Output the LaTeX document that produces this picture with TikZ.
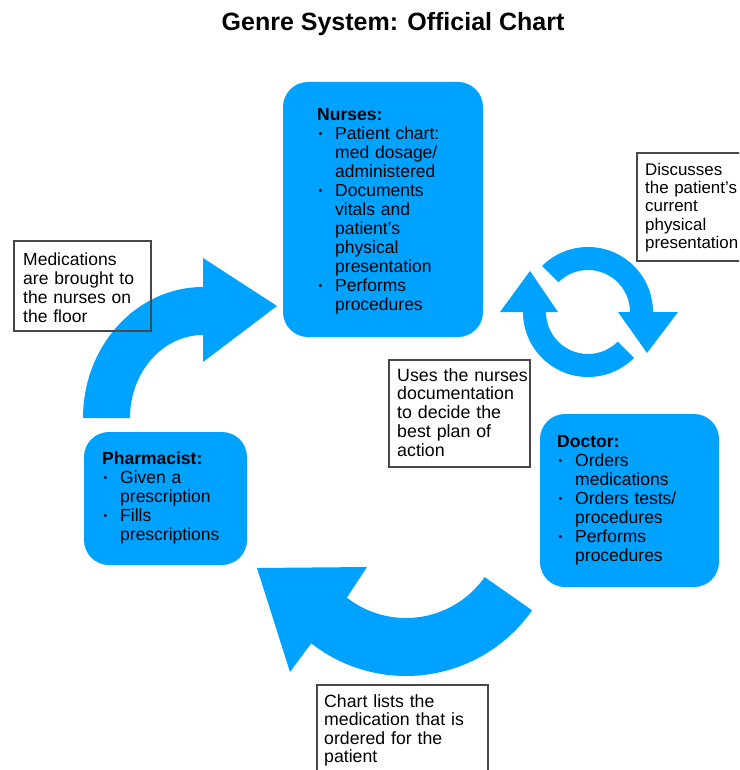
\documentclass[tikz,border=0pt]{standalone}
\usepackage{fontspec}
\setmainfont{Liberation Sans}
\usetikzlibrary{calc}
\definecolor{kblue}{RGB}{0,162,255}
\definecolor{kborder}{RGB}{72,72,72}
\newcommand\kbul{\makebox[18pt][l]{\hspace{1.5pt}\raisebox{1.8pt}{\fontsize{10.5}{10.5}\selectfont\textbullet}}}
\newcommand\kind{\hspace*{18pt}}
\begin{document}
\begin{tikzpicture}[x=1pt,y=-1pt,
  bluebox/.style={fill=kblue, rounded corners=25pt, inner sep=0pt},
  notebox/.style={draw=kborder, line width=1.3pt, inner sep=0pt},
  txt/.style={anchor=north west, inner sep=0pt, text width=160pt, align=left,
    font=\fontsize{17.5}{19}\selectfont},
  arrowshape/.style={fill=kblue}]
\useasboundingbox (0,0) rectangle (739,770);
\clip (0,0) rectangle (739,770);

% title
\node[anchor=base, font=\bfseries\fontsize{25}{30}\selectfont] (title) at (393,31) {Genre System: Official Chart};

% left curved arrow (pharmacist -> nurses)
\fill[arrowshape] (83,418) arc[start angle=180, end angle=270, x radius=120, y radius=131]
  -- (203,258) -- (277,306) -- (203,362) -- (203,335)
  arc[start angle=270, end angle=180, x radius=73, y radius=83] -- cycle;

% bottom curved arrow (doctor -> pharmacist)
\fill[arrowshape] ([shift={(406,522)}]35:154) arc[start angle=35, end angle=128, radius=154]
  -- (290,672) -- (257,568) -- (367,567) -- ([shift={(406,522)}]128:96)
  arc[start angle=128, end angle=35, radius=96] -- cycle;

% cycle icon (nurses <-> doctor)
\fill[arrowshape] ([shift={(588,312)}]225:65) arc[start angle=225, end angle=360, radius=65]
  -- (678,312) -- (647,353) -- (618,312) -- (630,312)
  arc[start angle=360, end angle=225, radius=42] -- cycle;
\fill[arrowshape] (523,312) -- (500,312) -- (530,271) -- (558,312) -- (546,312)
  arc[start angle=180, end angle=45, radius=42] -- ([shift={(588,312)}]45:65)
  arc[start angle=45, end angle=180, radius=65] -- cycle;

% blue boxes
\node[bluebox, minimum width=200pt, minimum height=255pt] (nurses) at (383,209.5) {};
\node[bluebox, minimum width=179pt, minimum height=173pt] (doctor) at (629.5,500.5) {};
\node[bluebox, minimum width=163pt, minimum height=133pt] (pharm) at (165.5,498.5) {};

\node[txt] (nursestxt) at (317,106.7) {\strut\textbf{Nurses:}\\
\kbul Patient chart:\\
\kind med dosage/\\
\kind administered\\
\kbul Documents\\
\kind vitals and\\
\kind patient’s\\
\kind physical\\
\kind presentation\\
\kbul Performs\\
\kind procedures};

\node[txt] (doctortxt) at (557,433.7) {\strut\textbf{Doctor:}\\
\kbul Orders\\
\kind medications\\
\kbul Orders tests/\\
\kind procedures\\
\kbul Performs\\
\kind procedures};

\node[txt] (pharmtxt) at (102,450.7) {\strut\textbf{Pharmacist:}\\
\kbul Given a\\
\kind prescription\\
\kbul Fills\\
\kind prescriptions};

% note boxes
\node[notebox, minimum width=137pt, minimum height=90pt] (medbox) at (82.5,286) {};
\node[txt] (medtxt) at (23,251.7) {\strut Medications\\are brought to\\the nurses on\\the floor};

\node[notebox, minimum width=123pt, minimum height=108pt] (discbox) at (698.5,207) {};
\node[txt, font=\fontsize{16.9}{18.3}\selectfont] (disctxt) at (645,162.2) {\strut Discusses\\the patient’s\\current\\physical\\presentation};

\node[notebox, minimum width=141pt, minimum height=107pt] (usesbox) at (459.5,413.5) {};
\node[txt, font=\fontsize{17.8}{18.75}\selectfont] (usestxt) at (397,367.9) {\strut Uses the nurses\\documentation\\to decide the\\best plan of\\action};

\node[notebox, minimum width=171pt, minimum height=105pt] (chartbox) at (402.5,737.5) {};
\node[txt, font=\fontsize{17.7}{18.5}\selectfont] (charttxt) at (324,694.1) {\strut Chart lists the\\medication that is\\ordered for the\\patient};
\end{tikzpicture}
\end{document}
